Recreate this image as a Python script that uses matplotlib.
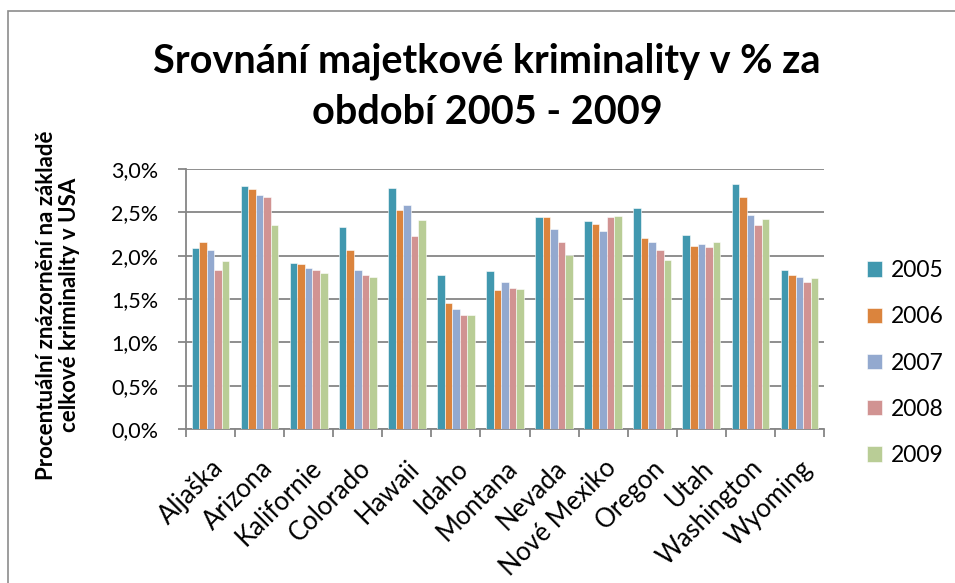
import numpy as np
import matplotlib
matplotlib.use("Agg")
import matplotlib.pyplot as plt
from matplotlib.patches import Rectangle
from matplotlib.ticker import FuncFormatter, FixedLocator

plt.rcParams['font.family'] = ['Lato', 'DejaVu Sans']

# data (percent of total US property crime)
states = ['Aljaška', 'Arizona', 'Kalifornie', 'Colorado', 'Hawaii', 'Idaho',
          'Montana', 'Nevada', 'Nové Mexiko', 'Oregon', 'Utah', 'Washington',
          'Wyoming']
years = ['2005', '2006', '2007', '2008', '2009']
v2005 = [2.09, 2.80, 1.92, 2.33, 2.78, 1.78, 1.82, 2.45, 2.40, 2.55, 2.24, 2.83, 1.83]
v2006 = [2.16, 2.77, 1.90, 2.07, 2.53, 1.45, 1.60, 2.45, 2.36, 2.20, 2.11, 2.68, 1.78]
v2007 = [2.07, 2.70, 1.86, 1.84, 2.59, 1.38, 1.70, 2.31, 2.29, 2.16, 2.14, 2.47, 1.75]
v2008 = [1.83, 2.68, 1.84, 1.78, 2.23, 1.31, 1.63, 2.16, 2.45, 2.06, 2.10, 2.35, 1.70]
v2009 = [1.94, 2.35, 1.80, 1.75, 2.41, 1.31, 1.62, 2.01, 2.46, 1.95, 2.16, 2.42, 1.74]
series = [v2005, v2006, v2007, v2008, v2009]
colors = ['#4198AF', '#DB843D', '#93A9CF', '#D19392', '#B9CD96']

fig = plt.figure(figsize=(9.55, 5.83), dpi=100)
# chart border (only top/left visible in the original crop)
fig.patches.append(Rectangle((8 / 955, -0.1), 1.2, (583 - 11) / 583 + 0.1,
                             transform=fig.transFigure, fill=False,
                             edgecolor='#8c8c8c', linewidth=1.2))

ax = fig.add_axes([186 / 955, 1 - 429 / 583, 638 / 955, 260 / 583])

x = np.arange(len(states))
w = 1 / 6.5
for i, (vals, c, yr) in enumerate(zip(series, colors, years)):
    ax.bar(x + (i - 2) * w, vals, width=w, color=c, label=yr,
           edgecolor='white', linewidth=0.4, zorder=3)

ax.set_xlim(-0.5, len(states) - 0.5)
ax.set_ylim(0, 3.0)
ax.set_yticks(np.arange(0, 3.01, 0.5))
ax.yaxis.set_major_formatter(FuncFormatter(lambda v, p: f'{v:.1f}%'.replace('.', ',')))
ax.grid(axis='y', color='#868686', linewidth=1.3, zorder=0)

ax.set_xticks(x)
ax.set_xticklabels(states, rotation=45, ha='right', va='top',
                   rotation_mode='anchor', fontsize=18.5)
ax.xaxis.set_minor_locator(FixedLocator(np.arange(-0.5, len(states), 1)))
ax.tick_params(axis='x', which='major', length=0, pad=19)
ax.tick_params(axis='x', which='minor', length=6, width=1.3, color='#868686')
ax.tick_params(axis='y', length=6, width=1.3, color='#868686', labelsize=15.5, pad=14)

for s in ['top', 'right']:
    ax.spines[s].set_visible(False)
for s in ['left', 'bottom']:
    ax.spines[s].set_color('#868686')
    ax.spines[s].set_linewidth(1.3)

fig.text(487 / 955, 1 - 87 / 583,
         'Srovnání majetkové kriminality v % za\nobdobí 2005 - 2009',
         ha='center', va='center', fontsize=28.5, fontweight='bold',
         linespacing=1.45)

fig.text(58 / 955, 1 - 305 / 583,
         'Procentuální znázornění na základě\ncelkové kriminality v USA',
         ha='center', va='center', rotation=90, fontsize=16,
         fontweight='bold', linespacing=1.15)

fig.legend(loc='center left', bbox_to_anchor=(846 / 955, 1 - 363 / 583),
           frameon=False, fontsize=16.5, handlelength=0.65, handleheight=0.65,
           labelspacing=1.1, handletextpad=0.4)

fig.savefig('out.png', dpi=100)
